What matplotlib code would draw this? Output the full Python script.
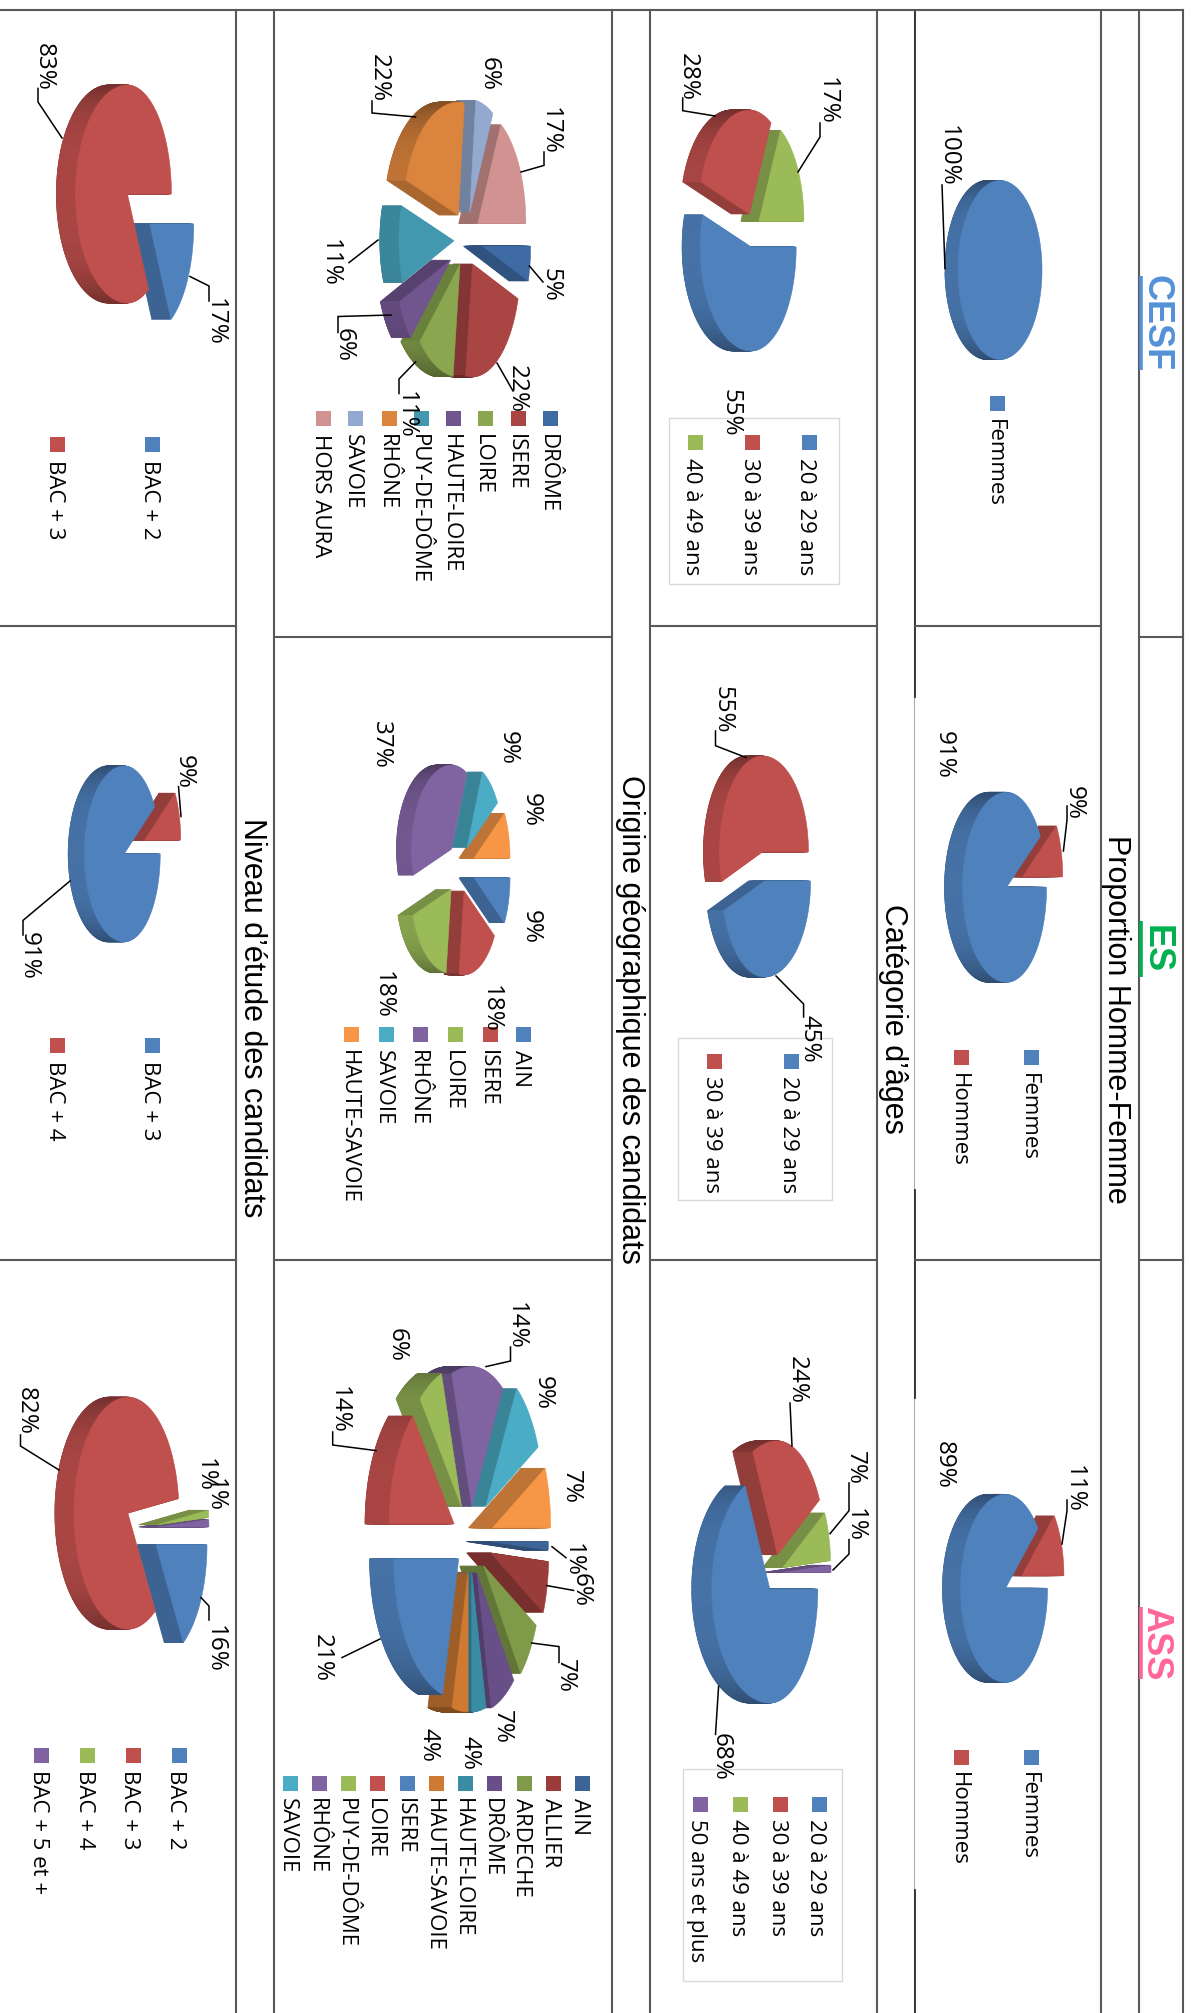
import numpy as np
import matplotlib
matplotlib.use("Agg")
import matplotlib.pyplot as plt

NARROW = ['Liberation Sans Narrow', 'Open Sans', 'DejaVu Sans']

# Palette of the spreadsheet charts
BLUE, RED, GREEN, PURPLE, TEAL, ORANGE = '#4F81BD', '#C0504D', '#9BBB59', '#8064A2', '#4BACC6', '#F79646'

# Proportion Homme-Femme
sex_cesf_names = ['Femmes']
sex_cesf_values = [100]
sex_names = ['Femmes', 'Hommes']
sex_es_values = [91, 9]
sex_ass_values = [89, 11]

# Categorie d'ages
age_cesf_names = ['20 à 29 ans', '30 à 39 ans', '40 à 49 ans']
age_cesf_values = [55, 28, 17]
age_es_names = ['20 à 29 ans', '30 à 39 ans']
age_es_values = [45, 55]
age_ass_names = ['20 à 29 ans', '30 à 39 ans', '40 à 49 ans', '50 ans et plus']
age_ass_values = [68, 24, 7, 1]

# Origine geographique
geo_cesf_names = ['DRÔME', 'ISERE', 'LOIRE', 'HAUTE-LOIRE', 'PUY-DE-DÔME', 'RHÔNE', 'SAVOIE', 'HORS AURA']
geo_cesf_values = [5, 22, 11, 6, 11, 22, 6, 17]
geo_cesf_colors = ['#3E6BA3', '#A94543', '#8AA64F', '#71558F', '#4298AF', '#DB843D', '#93A9CF', '#D19392']
geo_es_names = ['AIN', 'ISERE', 'LOIRE', 'RHÔNE', 'SAVOIE', 'HAUTE-SAVOIE']
geo_es_values = [9, 18, 18, 37, 9, 9]
geo_ass_names = ['AIN', 'ALLIER', 'ARDECHE', 'DRÔME', 'HAUTE-LOIRE', 'HAUTE-SAVOIE', 'ISERE', 'LOIRE',
                 'PUY-DE-DÔME', 'RHÔNE', 'SAVOIE']
geo_ass_values = [1, 6, 7, 7, 4, 4, 21, 14, 6, 14, 9, 7]  # last slice has no legend entry
geo_ass_colors = ['#3C6496', '#9A3D3A', '#7F9A48', '#694F88', '#3A8CA3', '#CE7A33', BLUE, RED, GREEN, PURPLE, TEAL, ORANGE]

# Niveau d'etude
lvl_cesf_names = ['BAC + 2', 'BAC + 3']
lvl_cesf_values = [17, 83]
lvl_es_names = ['BAC + 3', 'BAC + 4']
lvl_es_values = [91, 9]
lvl_ass_names = ['BAC + 2', 'BAC + 3', 'BAC + 4', 'BAC + 5 et +']
lvl_ass_values = [16, 82, 1, 1]

STD = [BLUE, RED, GREEN, PURPLE, TEAL, ORANGE]


def shade(color, f):
    return tuple(c * f for c in matplotlib.colors.to_rgb(color))


def ell(t, R_far, R_near, ry):
    # page is turned a quarter: 12 o'clock points right, clockwise goes down
    c, s = np.cos(t), np.sin(t)
    return np.where(c > 0, R_far, R_near) * c, ry * s


def pie3d(ax, values, colors, cx, cy, rf, rn, ry, e, d):
    vals = np.array(values, float)
    edges = np.deg2rad(np.concatenate([[0], np.cumsum(vals)]) / vals.sum() * 360)
    explode = np.broadcast_to(e, vals.shape)
    order = []
    for i in range(len(vals)):
        mid = (edges[i] + edges[i + 1]) / 2
        ox, oy = ell(mid, rf, rn, ry)
        ax0, ay0 = cx + explode[i] * ox, cy + explode[i] * oy
        if len(vals) == 1:
            ax0, ay0 = cx, cy
        order.append((ax0 + float(ox), i, ax0, ay0))

    # far slices first so that the near ones cover them
    for _, i, ax0, ay0 in sorted(order, reverse=True):
        t = np.linspace(edges[i], edges[i + 1], 120)
        ex, ey = ell(t, rf, rn, ry)
        if len(vals) == 1:
            xs, ys = ax0 + ex, ay0 + ey
        else:
            xs = np.concatenate([[ax0], ax0 + ex])
            ys = np.concatenate([[ay0], ay0 + ey])
        # cut faces: extrude the slice towards the viewer
        for k in np.arange(d, 0, -1.0):
            ax.fill(xs - k, ys, color=shade(colors[i], 0.77), lw=0.6, zorder=3)
        # outer rim, darker towards the ends of the ellipse
        for j in range(len(t) - 1):
            if np.cos(t[j]) < 0.03:
                f = 0.88 - 0.28 * abs(np.sin(t[j])) ** 4
                ax.fill([ax0 + ex[j], ax0 + ex[j + 1], ax0 + ex[j + 1] - d, ax0 + ex[j] - d],
                        [ay0 + ey[j], ay0 + ey[j + 1], ay0 + ey[j + 1], ay0 + ey[j]],
                        color=shade(colors[i], f), lw=0.5, zorder=3)
        ax.fill(xs, ys, color=colors[i], lw=0.4, zorder=3)


def legend(ax, names, colors, xs, y_swatch, y_text, box=None):
    if box:
        ax.add_patch(plt.Rectangle((box[0], box[2]), box[1] - box[0], box[3] - box[2],
                                   fc='white', ec='#d9d9d9', lw=1.0, zorder=4))
    for name, col, x in zip(names, colors, xs):
        ax.add_patch(plt.Rectangle((x - 7.5, y_swatch - 7.5), 15, 15, fc=col, ec='none', zorder=5))
        ax.text(x - 3, y_text, name, rotation=-90, ha='center', va='top', fontsize=16,
                family=NARROW, color='black', zorder=5)


def label(ax, x, y, txt, leader=None):
    if leader:
        ax.plot(leader[0], leader[1], color='black', lw=1.1, zorder=4, solid_joinstyle='miter')
    ax.text(x - 3, y, txt, rotation=-90, ha='center', va='center', fontsize=17.5,
            family=NARROW, color='black', zorder=6)


fig = plt.figure(figsize=(11.91, 20.13), dpi=100)
ax = fig.add_axes([0, 0, 1, 1])
ax.set_xlim(0, 1191)
ax.set_ylim(2013, 0)
ax.axis('off')

# table rules
GRID = '#595959'
for x in [236, 274, 612, 650, 877, 1101, 1139, 1183]:
    ax.plot([x, x], [10, 2013], color=GRID, lw=1.5, zorder=1)
ax.plot([913.5, 913.5], [10, 2013], color='#aaaaaa', lw=0.8, zorder=1)
ax.plot([915, 915], [10, 697], color='#2a2a2a', lw=1.3, zorder=1)
ax.plot([915, 915], [1190, 1398], color='#2a2a2a', lw=1.3, zorder=1)
ax.plot([915, 915], [1890, 2013], color='#2a2a2a', lw=1.3, zorder=1)
ax.plot([0, 1183], [10, 10], color=GRID, lw=1.5, zorder=1)
for a, b in [(0, 236), (650, 877), (915, 1101)]:
    ax.plot([a, b], [626, 626], color=GRID, lw=1.5, zorder=1)
for a, b in [(274, 612), (1139, 1183)]:
    ax.plot([a, b], [637, 637], color=GRID, lw=1.5, zorder=1)
for a, b in [(0, 236), (274, 612), (650, 877), (915, 1101), (1139, 1183)]:
    ax.plot([a, b], [1260, 1260], color=GRID, lw=1.5, zorder=1)

# titles of the bands
titles = [('Proportion Homme-Femme', 1116, 1019), ("Catégorie d’âges", 893, 1019),
          ('Origine géographique des candidats', 630, 1019), ('Niveau d’étude des candidats', 252, 1018)]
for txt, x, y in titles:
    ax.text(x, y, txt, rotation=-90, ha='center', va='center', fontsize=22, family='Liberation Sans', zorder=6)

for txt, col, y0, y1 in [('CESF', '#5591D8', 276, 370), ('ES', '#00B050', 921, 977), ('ASS', '#FF6699', 1607, 1679)]:
    ax.text(1156, (y0 + y1) / 2, txt, rotation=-90, ha='center', va='center', fontsize=26,
            fontweight='bold', family='Liberation Sans', color=col, zorder=6)
    ax.plot([1141, 1141], [y0, y1], color=col, lw=2.6, zorder=6, solid_capstyle='butt')

# Row 1
pie3d(ax, sex_cesf_values, [BLUE], 1000, 270, 42, 42, 89.5, 0, 13)
legend(ax, sex_cesf_names, [BLUE], [997.5], 403, 419)
label(ax, 951, 156, '100%', ([942, 942, 945], [185, 185, 268.5]))

pie3d(ax, sex_es_values, STD, 1015, 882, 40, 44, 95, 0.2, 18)
legend(ax, sex_names, STD, [1031.5, 961.6], 1057, 1073)
label(ax, 946.5, 755.4, '91%')
label(ax, 1077, 803.4, '9%', ([1067, 1067, 1063.4], [806, 820, 851]))

pie3d(ax, sex_ass_values, STD, 1014, 1582, 42, 45, 94, 0.2, 18)
legend(ax, sex_names, STD, [1031.5, 961.6], 1757.5, 1772)
label(ax, 946.5, 1464.6, '89%')
label(ax, 1077, 1488.6, '11%', ([1067, 1067, 1062], [1500, 1510.7, 1544]))

# Row 2
pie3d(ax, age_cesf_values, STD, 752.5, 230, 45, 51, 104, 0.165, 18)
legend(ax, age_cesf_names, STD, [809, 752, 695], 442, 458, box=(668.5, 838.6, 417.5, 584))
label(ax, 830, 101, '17%', ([820, 820, 798], [123, 137, 172]))
label(ax, 691, 76.6, '28%', ([682.7, 682.7, 715], [98, 110.7, 116]))
label(ax, 733, 413, '55%')

pie3d(ax, age_es_values, STD, 763.5, 866.5, 46, 43, 96, 0.153, 16)
legend(ax, age_es_names, STD, [791.5, 714], 1061, 1076, box=(677.6, 831.8, 1038, 1199.5))
label(ax, 725.4, 710, '55%', ([715.5, 715.5, 746], [731, 745.7, 757.5]))
label(ax, 812.8, 1039, '45%', ([803.6, 803.6, 776], [1017, 1004, 976]))

pie3d(ax, age_ass_values, STD, 775, 1573, 48, 58, 114, 0.167, 20)
legend(ax, age_ass_names, STD, [819, 780, 740.6, 700], 1804, 1819.4, box=(683, 841.6, 1769, 1981))
label(ax, 800, 1380, '24%', ([790, 792], [1403, 1446]))
label(ax, 858, 1468, '7%', ([849, 849, 830], [1483, 1510.7, 1533.7]))
label(ax, 858, 1525, '1%', ([849, 849, 833], [1539.5, 1554, 1570]))
label(ax, 724, 1757, '68%', ([715.5, 718.6], [1734.4, 1686.4]))

# Row 3
pie3d(ax, geo_cesf_values, geo_cesf_colors, 466, 240, 48, 55, 113,
      [0.35, 0.25, 0.24, 0.33, 0.22, 0.26, 0.255, 0.286], 19)
legend(ax, geo_cesf_names, geo_cesf_colors, [550.7, 518.8, 485.4, 453.5, 421.6, 389, 355.5, 323.6], 418.4, 433.5)
label(ax, 553, 130.5, '17%', ([544, 544, 521], [152, 165.4, 172]))
label(ax, 492, 73.7, '6%')
label(ax, 382, 78, '22%', ([372, 372, 415.5], [101, 113, 117]))
label(ax, 332.7, 262.6, '11%', ([349, 378], [262.6, 240]))
label(ax, 347, 345, '6%', ([338, 338, 391], [332.5, 316.5, 315]))
label(ax, 408.7, 414.6, '11%', ([399, 399, 415.5], [393.5, 379, 362]))
label(ax, 519.6, 389, '22%', ([513, 497], [391, 363]))
label(ax, 553, 285.4, '5%', ([543, 529.4], [282, 266]))

pie3d(ax, geo_es_values, STD, 459.5, 868, 36, 40, 84, [0.42, 0.30, 0.33, 0.30, 0.32, 0.42], 15)
legend(ax, geo_es_names, STD, [523.4, 490, 455.8, 420, 386.6, 351.7], 1034, 1049.6)
for x, y, txt in [(510.5, 748, '9%'), (534, 810, '9%'), (534, 927, '9%'), (493.7, 1009, '18%'),
                  (386, 995, '18%'), (384.4, 744.5, '37%')]:
    label(ax, x, y, txt)

pie3d(ax, geo_ass_values, geo_ass_colors, 470, 1540, 58, 65, 140,
      [0.35, 0.37, 0.30, 0.26, 0.23, 0.23, 0.22, 0.27, 0.27, 0.24, 0.36, 0.40], 24)
legend(ax, geo_ass_names, geo_ass_colors,
       [582.6, 553.7, 524, 494.5, 465.6, 436.8, 407, 377.5, 348.7, 319, 290], 1783.4, 1797.8)
label(ax, 519, 1326, '14%', ([510.5, 510.5, 486], [1347, 1361, 1366.6]))
label(ax, 545.4, 1392.5, '9%')
label(ax, 573.5, 1486.7, '7%')
label(ax, 400, 1344.5, '6%')
label(ax, 342, 1410, '14%', ([332.7, 332.7, 376], [1432, 1445, 1450.6]))
label(ax, 575.8, 1560, '1%', ([566, 552], [1557.7, 1546.7]))
label(ax, 583.4, 1590.4, '6%', ([573.5, 547], [1590.4, 1585.6]))
label(ax, 568, 1675.9, '7%', ([559, 559, 531.7], [1662.4, 1646.6, 1643]))
label(ax, 505, 1726.8, '7%')
label(ax, 473, 1752.7, '4%')
label(ax, 431.4, 1745, '4%')
label(ax, 324.4, 1657.6, '21%', ([342, 380], [1657.6, 1639]))

# Row 4
pie3d(ax, lvl_cesf_values, STD, 139.5, 209, 44, 52, 109, 0.27, 19)
legend(ax, lvl_cesf_names, STD, [152.7, 57], 444, 459.6)
label(ax, 47, 67, '83%', ([38, 38, 62], [88.4, 102, 138]))
label(ax, 218, 322, '17%', ([209, 209, 190], [301, 286, 276.5]))

pie3d(ax, lvl_es_values, STD, 135, 847, 36, 40, 88, 0.28, 16)
legend(ax, lvl_es_names, STD, [152.7, 57], 1045, 1060.6)
label(ax, 187, 772, '9%', ([178.5, 181], [786.6, 816.5]))
label(ax, 32, 956, '91%', ([23, 23, 70], [935, 920.4, 881]))

pie3d(ax, lvl_ass_values, STD, 142.6, 1528, 51, 54, 116, 0.3, 19)
legend(ax, lvl_ass_names, STD, [179, 133, 87.4, 41.8], 1755, 1770.5)
label(ax, 29, 1411, '82%', ([20.5, 20.5, 59], [1435, 1446, 1470]))
label(ax, 207.4, 1474.7, '1%')
label(ax, 218, 1495, '1%')
label(ax, 218, 1649, '16%', ([209, 209, 201], [1620, 1606, 1597.6]))

fig.savefig('out.png', dpi=100, facecolor='white')
